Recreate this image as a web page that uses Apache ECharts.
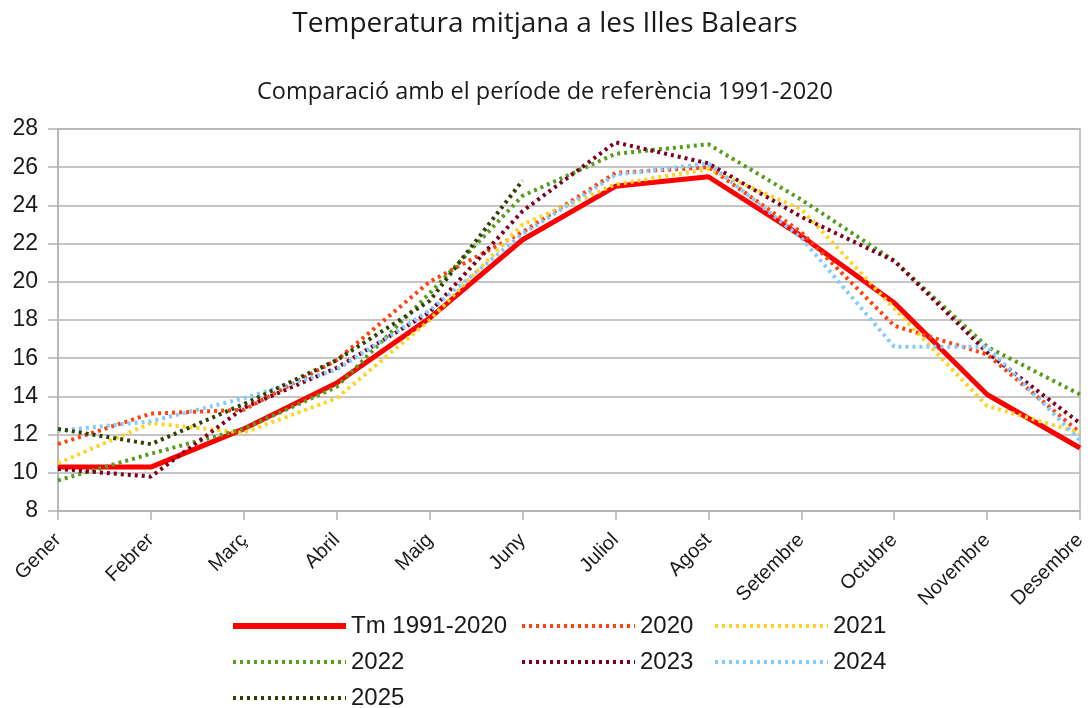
<!DOCTYPE html>
<html>
<head>
<meta charset="utf-8">
<script src="https://cdn.jsdelivr.net/npm/echarts@6/dist/echarts.min.js"></script>
<style>
  html, body { margin: 0; padding: 0; background: #fff; }
  #chart { width: 1090px; height: 708px; }
</style>
</head>
<body>
<div id="chart"></div>
<script>
// mesos
var mesos = ['Gener', 'Febrer', 'Març', 'Abril', 'Maig', 'Juny', 'Juliol', 'Agost', 'Setembre', 'Octubre', 'Novembre', 'Desembre']

// temperatura mitjana mensual (ºC)
var tm1991_2020 = [10.3, 10.3, 12.3, 14.7, 18.1, 22.2, 25.0, 25.5, 22.4, 18.9, 14.1, 11.3]
var t2020 = [11.5, 13.1, 13.3, 15.9, 20.0, 22.6, 25.7, 26.0, 22.6, 17.7, 16.2, 12.1]
var t2021 = [10.5, 12.6, 12.1, 13.9, 18.0, 23.0, 25.1, 25.9, 23.8, 18.6, 13.5, 12.1]
var t2022 = [9.6, 11.0, 12.3, 14.5, 19.4, 24.5, 26.7, 27.2, 24.3, 21.1, 16.6, 14.1]
var t2023 = [10.2, 9.8, 13.4, 15.5, 18.4, 23.7, 27.3, 26.2, 23.4, 21.1, 16.3, 12.6]
var t2024 = [12.2, 12.7, 13.9, 15.4, 18.5, 22.5, 25.6, 26.2, 22.3, 16.6, 16.6, 11.7]
var t2025 = [12.3, 11.5, 13.6, 15.9, 19.0, 25.3, null, null, null, null, null, null]

var myChart = echarts.init(document.getElementById('chart'))

var punts = [3, 4]

function serieAny(nom, dades, color) {
    return {
        name: nom,
        type: 'line',
        data: dades,
        symbol: 'none',
        lineStyle: { color: color, width: 4, type: punts, cap: 'butt' },
        itemStyle: { color: color }
    }
}

var legendText = { fontFamily: 'Liberation Sans', fontSize: 24, color: '#1a1a1a' }

// una llegenda per columna
var columnes = [
    { noms: ['Tm 1991-2020', '2022', '2025'], left: 230 },
    { noms: ['2020', '2023'], left: 520 },
    { noms: ['2021', '2024'], left: 713 }
]

var option = {
    backgroundColor: '#ffffff',
    animation: false,
    title: [
        {
            text: 'Temperatura mitjana a les Illes Balears',
            left: 'center',
            top: 5,
            textStyle: { fontFamily: 'Open Sans', fontSize: 28, fontWeight: 'normal', color: '#1a1a1a' }
        },
        {
            text: 'Comparació amb el període de referència 1991-2020',
            left: 'center',
            top: 75,
            textStyle: { fontFamily: 'Open Sans', fontSize: 23.5, fontWeight: 'normal', color: '#1a1a1a' }
        }
    ],
    grid: {
        left: 58, right: 10, top: 129, bottom: 197,
        show: true, borderColor: '#b3b3b3', borderWidth: 1.5
    },
    legend: columnes.map(function (c) {
        return {
            data: c.noms.map(function (n) {
                return { name: n, lineStyle: { width: n === 'Tm 1991-2020' ? 6 : 4 } }
            }),
            left: c.left,
            top: 614,
            height: 120,
            padding: 0,
            orient: 'vertical',
            itemWidth: 113,
            itemHeight: 14,
            itemGap: 12,
            itemStyle: { opacity: 0, borderWidth: 0 },
            textStyle: legendText
        }
    }),
    xAxis: {
        type: 'category',
        data: mesos,
        boundaryGap: false,
        axisLine: { lineStyle: { color: '#b3b3b3', width: 1.5 } },
        axisTick: { show: true, length: 9, lineStyle: { color: '#b3b3b3', width: 1.5 } },
        axisLabel: {
            rotate: 45,
            interval: 0,
            margin: 26,
            fontFamily: 'Liberation Sans',
            fontSize: 20,
            color: '#1a1a1a'
        }
    },
    yAxis: {
        type: 'value',
        min: 8,
        max: 28,
        interval: 2,
        axisLine: { show: true, lineStyle: { color: '#b3b3b3', width: 1.5 } },
        axisTick: { show: true, length: 10, lineStyle: { color: '#b3b3b3', width: 1.5 } },
        splitLine: { lineStyle: { color: '#b3b3b3', width: 1.5 } },
        axisLabel: { fontFamily: 'Liberation Sans', fontSize: 23, color: '#1a1a1a', margin: 20 }
    },
    series: [
        {
            name: 'Tm 1991-2020',
            type: 'line',
            data: tm1991_2020,
            symbol: 'none',
            z: 3,
            lineStyle: { color: '#ff0000', width: 5 },
            itemStyle: { color: '#ff0000' }
        },
        serieAny('2020', t2020, '#ff420e'),
        serieAny('2021', t2021, '#ffd320'),
        serieAny('2022', t2022, '#579d1c'),
        serieAny('2023', t2023, '#7e0021'),
        serieAny('2024', t2024, '#83caff'),
        serieAny('2025', t2025, '#314004')
    ]
}

myChart.setOption(option)
</script>
</body>
</html>
